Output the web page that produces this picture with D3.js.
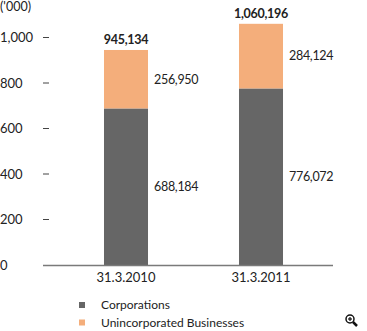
<!DOCTYPE html>
<html><head><meta charset="utf-8">
<script src="https://cdn.jsdelivr.net/npm/d3@7"></script>
<style>
body{margin:0;background:#fff;}
text{font-family:Lato,"Open Sans",sans-serif;fill:#222;}
</style></head>
<body>
<svg id="c" width="367" height="331"></svg>
<script>
const categories = ["31.3.2010", "31.3.2011"];
const corporations = [688184, 776072];
const unincorporated = [256950, 284124];
const totals = [945134, 1060196];
const seriesNames = ["Corporations", "Unincorporated Businesses"];
const yTicks = [0, 200, 400, 600, 800, 1000];
const unitLabel = "('000)";

const colors = ["#666666", "#F4AE7B"];
const svg = d3.select("#c");

const y = d3.scaleLinear().domain([0, 1000000]).range([265, 37.5]);
const x = d3.scaleBand().domain(categories).range([58.5, 328.5]).paddingInner(0.674).paddingOuter(0.337);
const fmt = d3.format(",");

// unit label
svg.append("text").attr("x", 0).attr("y", 11).attr("font-size", 12.5).text(unitLabel);

// y ticks
const yg = svg.append("g");
yTicks.forEach(t => {
  const yy = y(t * 1000);
  yg.append("text").attr("x", 0).attr("y", yy).attr("dy", "0.35em").attr("font-size", 13).text(fmt(t));
  if (t > 0) yg.append("line").attr("x1", 43).attr("x2", 49).attr("y1", yy).attr("y2", yy)
    .attr("stroke", "#444").attr("stroke-width", 1);
});

// stacked bars
categories.forEach((c, i) => {
  const x0 = x(c), w = x.bandwidth();
  const v0 = corporations[i], v1 = corporations[i] + unincorporated[i];
  svg.append("rect").attr("x", x0).attr("width", w).attr("y", y(v0)).attr("height", y(0) - y(v0)).attr("fill", colors[0]);
  svg.append("rect").attr("x", x0).attr("width", w).attr("y", y(v1)).attr("height", y(v0) - y(v1)).attr("fill", colors[1]);
  // segment labels
  svg.append("text").attr("x", x0 + w + 6).attr("y", (y(0) + y(v0)) / 2).attr("dy", "0.35em")
    .attr("font-size", 12.5).attr("letter-spacing", -0.3).text(fmt(corporations[i]));
  svg.append("text").attr("x", x0 + w + 6).attr("y", (y(v0) + y(v1)) / 2).attr("dy", "0.35em")
    .attr("font-size", 12.5).attr("letter-spacing", -0.3).text(fmt(unincorporated[i]));
  // totals
  svg.append("text").attr("x", x0 + w / 2).attr("y", y(totals[i]) - 6).attr("text-anchor", "middle")
    .attr("font-size", 12.5).attr("font-weight", "bold").attr("letter-spacing", -0.3).text(fmt(totals[i]));
  // category
  svg.append("text").attr("x", x0 + w / 2).attr("y", 282).attr("text-anchor", "middle")
    .attr("font-size", 13).text(c);
});

// baseline
svg.append("line").attr("x1", 43).attr("x2", 333).attr("y1", 265.5).attr("y2", 265.5)
  .attr("stroke", "#7a7a7a").attr("stroke-width", 1.5);

// legend
seriesNames.forEach((n, i) => {
  const yy = 302 + i * 17.5;
  svg.append("rect").attr("x", 79).attr("y", yy).attr("width", 6).attr("height", 6).attr("fill", colors[i]);
  svg.append("text").attr("x", 101).attr("y", yy + 7).attr("font-size", 12).text(n);
});

// magnifier icon
const ic = svg.append("g").attr("stroke", "#111").attr("fill", "none");
ic.append("circle").attr("cx", 350).attr("cy", 319).attr("r", 4).attr("stroke-width", 1.5);
ic.append("line").attr("x1", 348).attr("x2", 352).attr("y1", 319).attr("y2", 319).attr("stroke-width", 1.2);
ic.append("line").attr("x1", 350).attr("x2", 350).attr("y1", 317).attr("y2", 321).attr("stroke-width", 1.2);
ic.append("line").attr("x1", 353).attr("x2", 357).attr("y1", 322).attr("y2", 326).attr("stroke-width", 2.5);
</script>
</body></html>
